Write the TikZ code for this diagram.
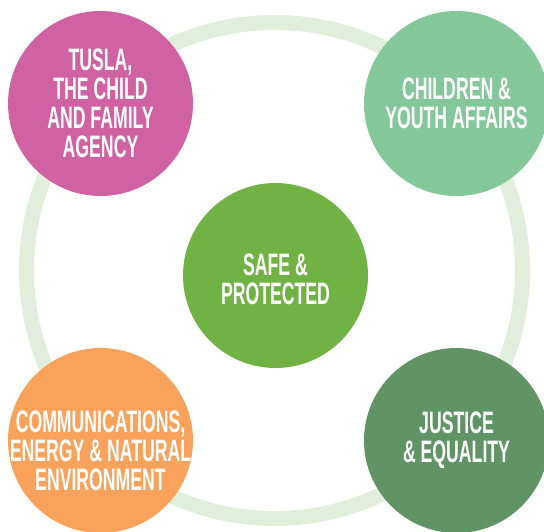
\documentclass[tikz,border=0pt]{standalone}
\usepackage{fontspec}
\newfontfamily\bubblefont[FakeStretch=0.57]{Liberation Sans}
\definecolor{ringgreen}{RGB}{226,238,220}
\definecolor{tuslapink}{RGB}{208,98,164}
\definecolor{youthgreen}{RGB}{132,199,153}
\definecolor{safegreen}{RGB}{112,178,68}
\definecolor{commsorange}{RGB}{248,162,91}
\definecolor{justicegreen}{RGB}{97,148,101}
\tikzset{
	bubble/.style={circle, minimum size=185pt, inner sep=0pt},
	bubbletext/.style={text=white, align=center, inner sep=0pt,
		font={\bubblefont\bfseries\fontsize{31}{29}\selectfont}}
}
\begin{document}
\begin{tikzpicture}[x=1pt, y=-1pt]
	
	\useasboundingbox (0,0) rectangle (544,531);
	
	\draw[line width = 15pt, ringgreen] (274.5,270.5) circle (248pt);
	
	\node[bubble, fill=tuslapink, label={[bubbletext]center:{TUSLA,\\THE CHILD\\AND FAMILY\\AGENCY}}] (tusla) at (100.5,103.5) {};
	\node[bubble, fill=youthgreen, label={[bubbletext]center:{CHILDREN \&\\YOUTH AFFAIRS}}] (youth) at (456.5,103.5) {};
	\node[bubble, fill=safegreen, label={[bubbletext, yshift=-4pt]center:{SAFE \&\\PROTECTED}}] (safe) at (275.5,275.5) {};
	\node[bubble, fill=commsorange, label={[bubbletext, yshift=-10pt]center:{COMMUNICATIONS,\\ENERGY \& NATURAL\\ENVIRONMENT}}] (comms) at (100.5,440.5) {};
	\node[bubble, fill=justicegreen, label={[bubbletext]center:{JUSTICE\\\& EQUALITY}}] (justice) at (456.5,440.5) {};
	
\end{tikzpicture}
\end{document}
